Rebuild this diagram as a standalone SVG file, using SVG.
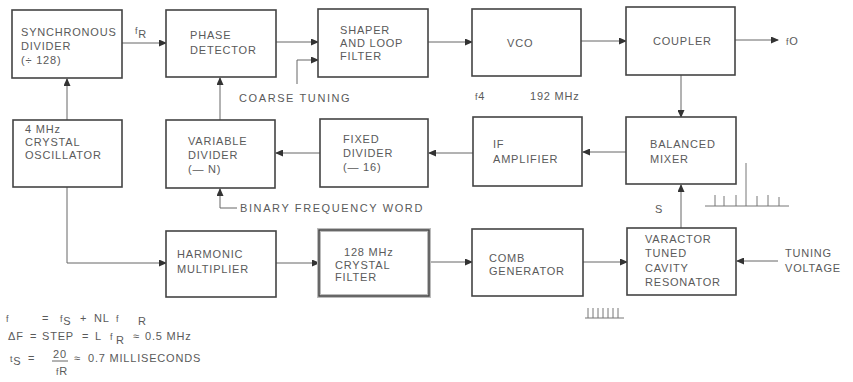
<svg xmlns="http://www.w3.org/2000/svg" width="853" height="382" viewBox="0 0 853 382">
<style>
.box{fill:#fff;stroke:#444;stroke-width:1.6}
.t{font-family:"Liberation Sans","DejaVu Sans",sans-serif;font-size:11px;fill:#5a5a5a;letter-spacing:0.8px}
.w{letter-spacing:1.6px}
.s{font-size:9px}
.ln{fill:none;stroke:#666;stroke-width:1}
.arr{marker-end:url(#ah)}
.sp{fill:none;stroke:#777;stroke-width:1}
</style>
<defs>
<marker id="ah" markerUnits="userSpaceOnUse" markerWidth="8" markerHeight="7" refX="7" refY="3.5" orient="auto">
<path d="M0,0 L8,3.5 L0,7 z" fill="#333"/>
</marker>
</defs>
<rect width="853" height="382" fill="#fff"/>

<g id="connectors">
<path class="ln arr" d="M67,120 V79"/>
<path class="ln arr" d="M122,43 H166"/>
<path class="ln arr" d="M276,42 H318"/>
<path class="ln arr" d="M297,84 V60 H318"/>
<path class="ln arr" d="M428,42 H472"/>
<path class="ln arr" d="M581,41 H626"/>
<path class="ln arr" d="M735,40 H778"/>
<path class="ln arr" d="M681,75 V117"/>
<path class="ln arr" d="M220,120 V78"/>
<path class="ln arr" d="M320,153 H276"/>
<path class="ln arr" d="M473,153 H429"/>
<path class="ln arr" d="M626,152 H583"/>
<path class="ln arr" d="M237,208 H220 V189"/>
<path class="ln arr" d="M67,187 V263 H166"/>
<path class="ln arr" d="M276,263 H319"/>
<path class="ln arr" d="M429,262 H472"/>
<path class="ln arr" d="M583,262 H627"/>
<path class="ln arr" d="M778,261 H737"/>
<path class="ln arr" d="M681,228 V185"/>
</g>

<g id="sync-divider">
<rect class="box" x="12" y="10" width="110" height="68"/>
<text class="t" x="21" y="36">SYNCHRONOUS</text>
<text class="t" x="21" y="50">DIVIDER</text>
<text class="t" x="21" y="64">(÷ 128)</text>
</g>
<g id="phase-detector">
<rect class="box" x="166" y="10" width="110" height="67"/>
<text class="t" x="190" y="39">PHASE</text>
<text class="t" x="190" y="54">DETECTOR</text>
</g>
<g id="shaper">
<rect class="box" x="318" y="9" width="110" height="68"/>
<text class="t" x="340" y="34">SHAPER</text>
<text class="t" x="340" y="47">AND LOOP</text>
<text class="t" x="340" y="60">FILTER</text>
</g>
<g id="vco">
<rect class="box" x="472" y="9" width="109" height="67"/>
<text class="t" x="507" y="47">VCO</text>
</g>
<g id="coupler">
<rect class="box" x="626" y="7" width="109" height="68"/>
<text class="t" x="653" y="45">COUPLER</text>
</g>
<g id="crystal-osc">
<rect class="box" x="13" y="120" width="109" height="67"/>
<text class="t" x="25" y="133">4 MHz</text>
<text class="t" x="25" y="146">CRYSTAL</text>
<text class="t" x="25" y="159">OSCILLATOR</text>
</g>
<g id="variable-divider">
<rect class="box" x="166" y="120" width="109" height="68"/>
<text class="t" x="188" y="145">VARIABLE</text>
<text class="t" x="188" y="159">DIVIDER</text>
<text class="t" x="188" y="173">(— N)</text>
</g>
<g id="fixed-divider">
<rect class="box" x="320" y="119" width="108" height="68"/>
<text class="t" x="343" y="143">FIXED</text>
<text class="t" x="343" y="157">DIVIDER</text>
<text class="t" x="343" y="171">(— 16)</text>
</g>
<g id="if-amplifier">
<rect class="box" x="473" y="117" width="109" height="69"/>
<text class="t" x="493" y="148">IF</text>
<text class="t" x="493" y="163">AMPLIFIER</text>
</g>
<g id="balanced-mixer">
<rect class="box" x="626" y="117" width="110" height="67"/>
<text class="t" x="650" y="148">BALANCED</text>
<text class="t" x="650" y="163">MIXER</text>
</g>
<g id="harmonic-multiplier">
<rect class="box" x="166" y="231" width="110" height="66"/>
<text class="t" x="177" y="258">HARMONIC</text>
<text class="t" x="177" y="273">MULTIPLIER</text>
</g>
<g id="crystal-filter">
<rect x="319" y="230" width="110" height="66" fill="#fff" stroke="#bbb" stroke-width="4"/>
<rect x="319" y="230" width="110" height="66" fill="none" stroke="#444" stroke-width="1.4"/>
<text class="t" x="344" y="256">128 MHz</text>
<text class="t" x="335" y="269">CRYSTAL</text>
<text class="t" x="335" y="281">FILTER</text>
</g>
<g id="comb-generator">
<rect class="box" x="472" y="229" width="111" height="67"/>
<text class="t" x="489" y="262">COMB</text>
<text class="t" x="489" y="275">GENERATOR</text>
</g>
<g id="varactor">
<rect class="box" x="627" y="228" width="109" height="67"/>
<text class="t" x="645" y="243">VARACTOR</text>
<text class="t" x="645" y="257">TUNED</text>
<text class="t" x="645" y="272">CAVITY</text>
<text class="t" x="645" y="286">RESONATOR</text>
</g>

<g id="labels">
<text class="t" x="135" y="34"><tspan class="s">f</tspan><tspan dy="4">R</tspan></text>
<text class="t" x="786" y="45"><tspan class="s">f</tspan>O</text>
<text class="t w" x="239" y="102">COARSE TUNING</text>
<text class="t" x="475" y="100"><tspan class="s">f</tspan>4<tspan x="530">192 MHz</tspan></text>
<text class="t w" x="240" y="212">BINARY FREQUENCY WORD</text>
<text class="t" x="655" y="213">S</text>
<text class="t" x="785" y="257">TUNING</text>
<text class="t" x="785" y="272">VOLTAGE</text>
</g>

<g id="spectra">
<path class="sp" d="M705,206 H789 M746,206 V163 M715,206 V195 M724,206 V196 M736,206 V195 M757,206 V196 M768,206 V195 M779,206 V197"/>
<path class="sp" d="M585,318 H624 M588,318 V308 M593,318 V308 M598,318 V308 M603,318 V308 M608,318 V308 M613,318 V308 M618,318 V308"/>
</g>

<g id="formulas">
<text class="t" x="6" y="322"><tspan class="s">f</tspan><tspan x="42">=</tspan><tspan x="60" class="s">f</tspan><tspan dy="3">S</tspan><tspan x="80" dy="-3">+</tspan><tspan x="94">NL</tspan><tspan x="116" class="s">f</tspan><tspan x="138" dy="3">R</tspan></text>
<text class="t" x="8" y="340">ΔF<tspan x="30">=</tspan><tspan x="42">STEP</tspan><tspan x="82">=</tspan><tspan x="95">L</tspan><tspan x="110" class="s">f</tspan><tspan x="116" dy="4">R</tspan><tspan x="133" dy="-4">≈</tspan><tspan x="145">0.5 MHz</tspan></text>
<text class="t" x="10" y="362"><tspan class="s">t</tspan><tspan dy="3">S</tspan><tspan x="28" dy="-3">=</tspan><tspan x="53" dy="-4">20</tspan><tspan x="74" dy="4">≈</tspan><tspan x="88">0.7 MILLISECONDS</tspan></text>
<path class="ln" d="M52,361 H68"/>
<text class="t" x="56" y="375"><tspan class="s">f</tspan><tspan>R</tspan></text>
</g>
</svg>
